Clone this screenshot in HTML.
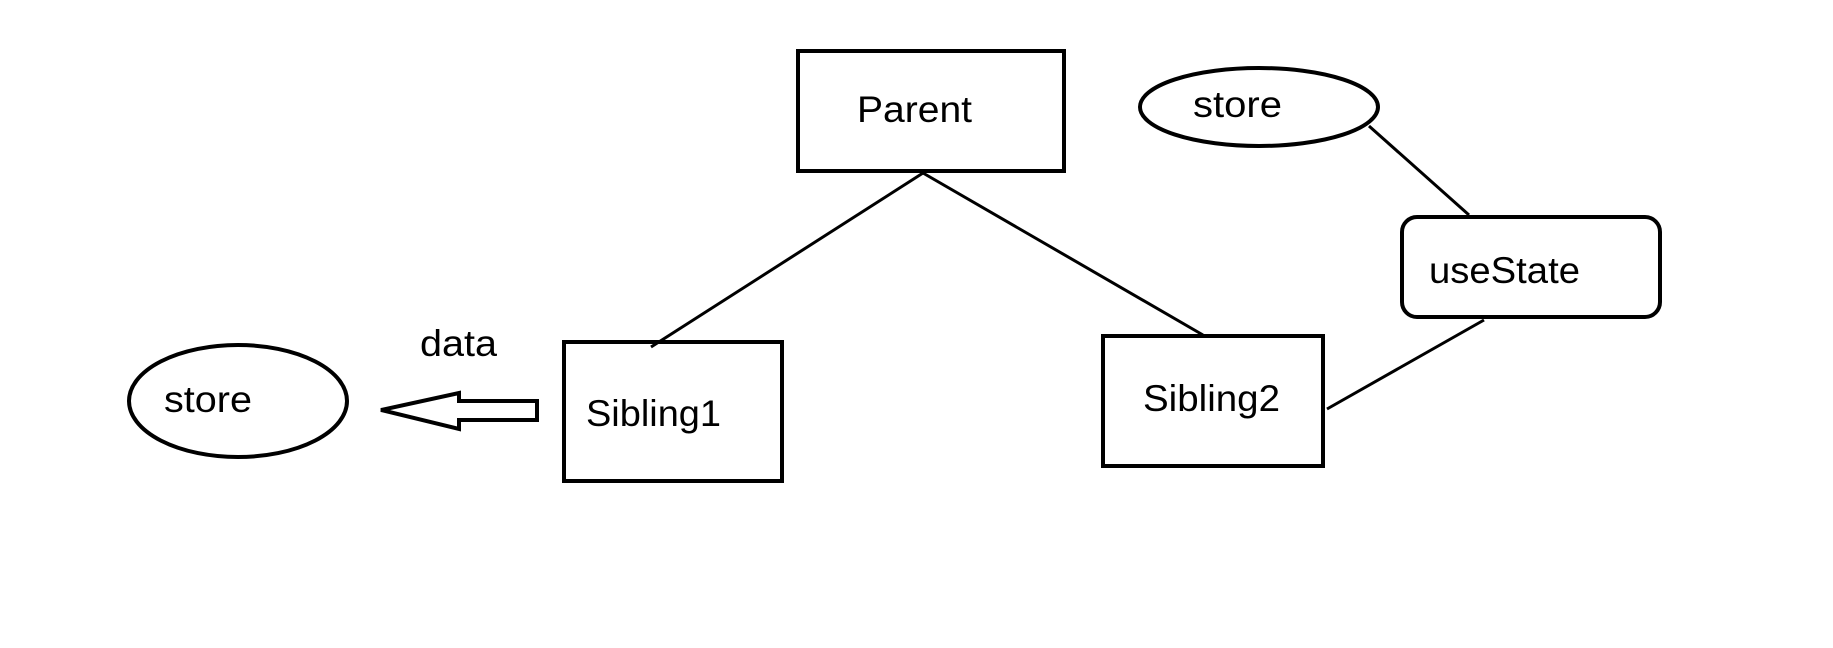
<!DOCTYPE html>
<html><head><meta charset="utf-8"><style>html,body{margin:0;padding:0;background:#fff;}svg{display:block}</style></head>
<body>
<svg width="1833" height="648" viewBox="0 0 1833 648" xmlns="http://www.w3.org/2000/svg">
<g fill="none" stroke="#000" stroke-width="4">
<rect x="798" y="51" width="266" height="120"/>
<ellipse cx="1259" cy="107" rx="119" ry="39"/>
<rect x="1402" y="217" width="258" height="100" rx="15"/>
<rect x="1103" y="336" width="220" height="130"/>
<rect x="564" y="342" width="218" height="139"/>
<ellipse cx="238" cy="401" rx="109" ry="56"/>
<path d="M381,410 L459,393 L459,401 L537,401 L537,420 L459,420 L459,429 Z" stroke-linejoin="miter"/>
<line x1="923" y1="173" x2="651" y2="347" stroke-width="3"/>
<line x1="923" y1="173" x2="1203" y2="335" stroke-width="3"/>
<line x1="1369" y1="126" x2="1469" y2="215" stroke-width="3"/>
<line x1="1484" y1="320" x2="1327" y2="409" stroke-width="3"/>
</g>
<g font-family="Liberation Sans, sans-serif" font-size="37" fill="#000">
<text x="857" y="122" textLength="115" lengthAdjust="spacingAndGlyphs">Parent</text>
<text x="1193" y="117" textLength="89" lengthAdjust="spacingAndGlyphs">store</text>
<text x="1429" y="283" textLength="151" lengthAdjust="spacingAndGlyphs">useState</text>
<text x="1143" y="411" textLength="137" lengthAdjust="spacingAndGlyphs">Sibling2</text>
<text x="586" y="426" textLength="135" lengthAdjust="spacingAndGlyphs">Sibling1</text>
<text x="164" y="412" textLength="88" lengthAdjust="spacingAndGlyphs">store</text>
<text x="420" y="356" textLength="77" lengthAdjust="spacingAndGlyphs">data</text>
</g>
</svg>
</body></html>
